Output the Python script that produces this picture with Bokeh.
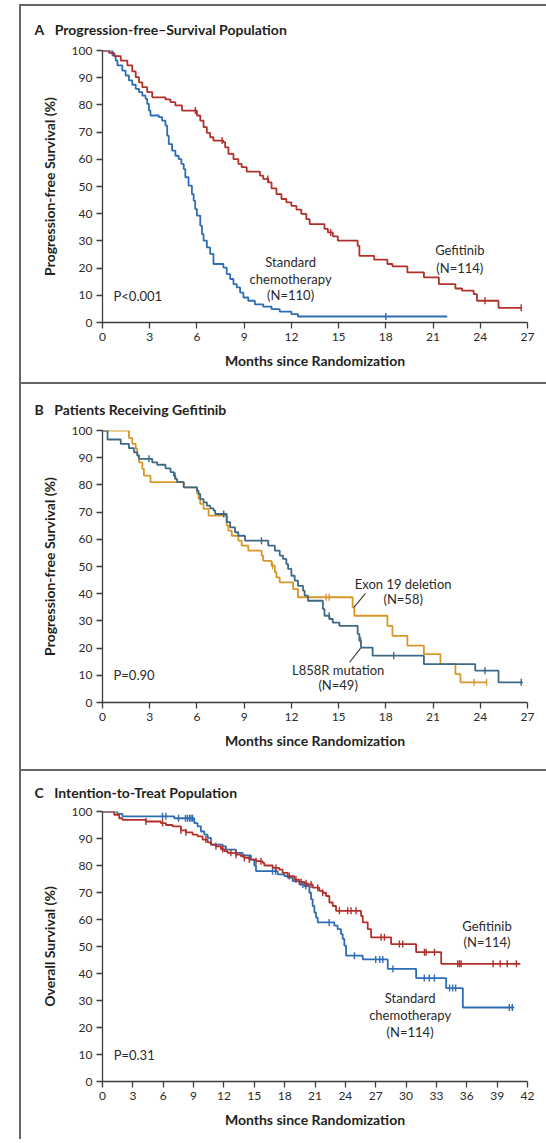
import math
from bokeh.plotting import figure
from bokeh.layouts import column, row
from bokeh.models import Div, Spacer, Label, FixedTicker, Range1d
from bokeh.embed import file_html
from bokeh.resources import INLINE

# ---------------- data ----------------
# Panel A: progression-free survival
A_gef_t = [0, 0.42, 0.74, 1.16, 1.58, 1.89, 2.11, 2.32, 2.53, 2.84, 3.16, 4.0, 4.32, 4.63, 5.05,
           6.0, 6.21, 6.42, 6.63, 6.84, 7.05, 7.68, 7.79, 8.0, 8.32, 8.63, 8.84, 9.16, 10.0, 10.21,
           10.53, 10.74, 11.05, 11.37, 11.68, 12.0, 12.32, 12.63, 12.95, 13.16, 14.1, 14.32, 14.63,
           14.95, 16.21, 16.32, 17.26, 18.1, 18.42, 19.37, 20.42, 21.37, 22.42, 22.84, 23.58, 23.79, 25.16]
A_gef_s = [100, 99.1, 97.9, 96.3, 94.5, 92.3, 90.2, 88.3, 86.5, 84.7, 82.8, 82.0, 81.0, 79.8, 77.9,
           76.1, 74.2, 71.8, 69.7, 68.1, 66.9, 66.3, 64.4, 62.0, 60.1, 58.3, 57.1, 55.5, 54.0, 52.8,
           51.5, 49.3, 47.2, 45.4, 44.2, 42.9, 41.5, 39.9, 38.0, 36.2, 34.4, 33.1, 31.7,
           30.1, 28.2, 24.5, 23.1, 21.5, 20.6, 18.4, 16.6, 14.1, 12.5, 11.7, 10.4, 8.0, 5.4]
A_gef_end = 26.6
A_gef_cens = [5.9, 7.6, 10.5, 14.5, 24.3, 26.6]

A_chemo_t = [0, 0.63, 0.84, 0.95, 1.26, 1.47, 1.68, 1.89, 2.11, 2.32, 2.53, 2.74, 2.84, 2.95, 3.05,
             3.58, 3.79, 4.0, 4.11, 4.21, 4.42, 4.63, 4.84, 5.01, 5.16, 5.26, 5.47, 5.68, 5.79, 5.89,
             6.0, 6.21, 6.32, 6.42, 6.63, 6.84, 7.05, 7.68, 7.89, 8.11, 8.32, 8.53, 8.74, 8.95, 9.26,
             9.68, 10.21, 10.74, 11.26, 12.0, 12.42]
A_chemo_s = [100, 98.2, 96.3, 94.5, 92.6, 90.8, 89.0, 87.4, 85.9, 84.7, 83.4, 82.2, 80.4, 77.9, 76.1,
             75.5, 74.2, 72.4, 68.7, 65.6, 63.2, 61.3, 60.1, 58.3, 56.4, 53.4, 50.3, 47.2, 44.8, 41.7,
             39.3, 35.6, 32.5, 30.1, 27.6, 25.2, 21.5, 20.2, 17.8, 16.0, 14.1, 12.9, 11.0, 9.2, 8.0,
             6.7, 5.8, 4.9, 4.0, 3.1, 2.2]
A_chemo_end = 21.9
A_chemo_cens = [18.0]

# Panel B: gefitinib patients by mutation type
B_l858_t = [0, 0.32, 1.16, 1.68, 2.0, 2.21, 2.32, 3.16, 3.47, 4.0, 4.32, 4.53, 4.63, 4.74, 5.16,
            6.0, 6.1, 6.21, 6.42, 6.63, 6.84, 7.05, 7.16, 7.89, 8.11, 8.42, 8.63, 9.05, 10.53, 10.95,
            11.26, 11.47, 11.68, 11.79, 12.0, 12.21, 12.42, 12.74, 12.84, 13.05, 14.0, 14.1, 14.42,
            14.63, 15.05, 16.21, 16.32, 16.42, 17.16, 20.42, 23.68, 25.16]
B_l858_s = [100, 96.7, 95.1, 93.5, 92.0, 90.8, 89.6, 88.3, 87.4, 86.1, 84.7, 83.4, 82.2, 81.0, 79.1,
            77.9, 76.7, 74.8, 73.6, 72.4, 71.4, 70.6, 69.3, 66.3, 64.4, 62.6, 61.3, 59.5, 57.7, 55.8,
            54.0, 52.8, 50.9, 49.1, 46.6, 44.8, 42.9, 41.1, 39.3, 37.4, 34.4, 31.9, 30.7,
            29.4, 28.2, 25.2, 22.7, 20.2, 17.2, 14.1, 11.7, 7.4]
B_l858_end = 26.7
B_l858_cens = [2.95, 4.6, 7.7, 10.1, 14.4, 16.4, 18.5, 24.3, 26.6]

B_exon_t = [0, 1.68, 1.89, 2.11, 2.21, 2.32, 2.53, 2.63, 3.05, 5.16, 6.0, 6.1, 6.21, 6.42, 6.74,
            7.89, 8.0, 8.21, 8.63, 8.84, 9.26, 10.11, 10.21, 10.74, 10.95, 11.05, 11.26, 12.11, 12.42,
            15.89, 16.0, 18.1, 18.42, 19.37, 20.42, 21.47, 22.42, 22.74]
B_exon_s = [100, 97.2, 95.1, 93.3, 90.8, 88.3, 85.9, 83.4, 81.0, 79.1, 77.0, 75.0, 73.0, 71.2, 68.7,
            65.0, 63.2, 61.3, 59.5, 57.7, 55.8, 54.0, 52.1, 50.3, 47.9, 46.0, 44.2, 41.7, 38.7,
            35.0, 31.9, 28.2, 24.5, 20.9, 17.8, 14.1, 10.4, 7.4]
B_exon_end = 24.4
B_exon_cens = [10.8, 14.2, 14.4, 23.6, 24.4]

# Panel C: overall survival
C_gef_t = [0, 1.15, 1.65, 1.98, 4.29, 5.77, 6.27, 6.92, 7.75, 8.24, 8.9, 9.4, 9.89, 10.39, 10.72,
           11.21, 11.71, 12.03, 12.36, 13.19, 13.68, 14.01, 14.51, 15.17, 15.83, 15.99, 16.82, 17.47,
           17.8, 18.3, 18.96, 19.45, 19.95, 20.28, 20.77, 21.43, 21.76, 22.09, 22.42, 22.75, 23.08,
           25.55, 25.72, 26.21, 26.54, 28.52, 30.99, 33.47]
C_gef_s = [100, 98.8, 97.5, 96.9, 96.3, 95.7, 95.0, 94.5, 93.0, 92.3, 91.4, 90.8, 89.6, 88.6, 87.7,
           87.1, 86.1, 85.3, 84.7, 84.0, 83.4, 82.8, 82.2, 81.6, 81.0, 80.0, 79.1, 78.5,
           77.3, 76.1, 74.8, 73.9, 73.4, 73.0, 71.8, 70.6, 69.9, 68.7, 66.3, 65.0, 63.2,
           61.3, 58.9, 56.4, 53.4, 50.9, 47.9, 43.6]
C_gef_end = 41.3
C_gef_cens = [4.29, 5.93, 7.75, 8.24, 10.22, 11.21, 11.87, 12.69, 13.19, 14.01, 14.51, 15.17, 15.66,
              17.14, 18.46, 19.12, 19.62, 20.11, 20.61, 21.27, 21.76, 23.41, 24.23, 24.56, 25.06,
              27.53, 27.86, 29.34, 29.67, 31.82, 31.98, 32.81, 35.11, 35.28, 35.44, 38.6, 39.3,
              40.0, 40.9]

C_chemo_t = [0, 1.48, 1.98, 7.09, 9.07, 9.4, 9.73, 10.06, 10.39, 10.72, 11.87, 12.2, 13.19, 13.85,
             14.67, 15.0, 15.17, 17.31, 17.97, 18.3, 18.79, 19.45, 19.95, 20.44, 20.61, 20.77, 20.94,
             21.1, 21.27, 22.91, 23.24, 23.57, 23.74, 23.9, 24.07, 25.72, 28.19, 30.99, 33.96, 35.61]
C_chemo_s = [100, 99.1, 98.2, 97.5, 95.7, 94.5, 92.6, 91.4, 90.2, 87.7, 87.1, 85.9, 84.7, 83.7,
             82.2, 80.0, 77.9, 76.7, 76.1, 75.5, 74.2, 73.0, 72.4, 69.9, 67.5, 65.0, 62.6,
             60.7, 58.9, 57.7, 56.4, 54.6, 52.8, 50.3, 46.6, 45.2, 41.7, 38.3, 34.6, 27.4]
C_chemo_end = 40.7
C_chemo_cens = [5.93, 6.26, 7.52, 8.2, 8.4, 8.6, 8.75, 8.9, 16.8, 17.1, 19.8, 20.1, 22.4, 24.9,
                27.0, 27.4, 27.7, 28.7, 31.8, 32.3, 32.8, 34.3, 34.6, 34.9, 40.2, 40.5]

X_TICKS_AB = list(range(0, 28, 3))
X_TICKS_C = list(range(0, 43, 3))
Y_TICKS = list(range(0, 101, 10))

# ---------------- style ----------------
RED = "#b3302a"
BLUE = "#2d6db5"
ORANGE = "#d9962a"
STEEL = "#3d6986"
AXIS = "#3c3c3c"
TEXT = "#231f20"
FRAME = "#666666"
FONT = "Lato"

FIG_W = 525


def step_value(t, s, c):
    v = s[0]
    for ti, si in zip(t, s):
        if ti <= c:
            v = si
        else:
            break
    return v


def make_fig(h, top, bottom, xmax, xticks, ylabel, title, title_standoff):
    p = figure(width=FIG_W, height=h, output_backend="svg", toolbar_location=None,
               x_range=Range1d(0, xmax), y_range=Range1d(0, 100),
               min_border_left=81, min_border_right=FIG_W - 81 - 425, min_border_top=top,
               min_border_bottom=bottom, background_fill_color="white",
               border_fill_color="white", outline_line_color=None, title=title)
    p.title.align = "left"
    p.title.offset = -68
    p.title.standoff = title_standoff
    p.title.text_font = FONT
    p.title.text_font_style = "bold"
    p.title.text_font_size = "14px"
    p.title.text_color = TEXT
    p.grid.visible = False
    for ax in (p.xaxis[0], p.yaxis[0]):
        ax.axis_line_color = AXIS
        ax.axis_line_width = 1.3
        ax.major_tick_line_color = AXIS
        ax.major_tick_line_width = 1.3
        ax.major_tick_out = 6
        ax.major_tick_in = 0
        ax.minor_tick_line_color = None
        ax.major_label_text_font = FONT
        ax.major_label_text_font_size = "12px"
        ax.major_label_text_color = "#2a2a2a"
        ax.axis_label_text_font = FONT
        ax.axis_label_text_font_style = "bold"
        ax.axis_label_text_font_size = "14px"
        ax.axis_label_text_color = TEXT
    p.xaxis.ticker = FixedTicker(ticks=xticks)
    p.yaxis.ticker = FixedTicker(ticks=Y_TICKS)
    p.xaxis.axis_label = "Months since Randomization"
    p.yaxis.axis_label = ylabel
    p.xaxis.major_label_standoff = 4
    p.xaxis.axis_label_standoff = 8
    p.yaxis.major_label_standoff = 4
    p.yaxis.axis_label_standoff = 11
    return p


def add_curve(p, t, s, end, cens, color):
    xs = list(t) + [end]
    ys = list(s) + [s[-1]]
    p.step(xs, ys, mode="after", line_color=color, line_width=1.8)
    cy = [step_value(t, s, c) for c in cens]
    p.scatter(cens, cy, marker="dash", angle=math.pi / 2, size=7,
              line_color=color, line_width=1.4)


def add_text(p, x, y, txt, align="center"):
    p.add_layout(Label(x=x, y=y, text=txt, text_font=FONT, text_font_size="13px",
                       text_color="#2a2a2a", text_baseline="middle", text_align=align))


# ---------------- panel A ----------------
pA = make_fig(376, 44, 60, 27, X_TICKS_AB, "Progression-free Survival (%)",
              "A\u2003Progression-free\u2013Survival Population", 25)
add_curve(pA, A_chemo_t, A_chemo_s, A_chemo_end, A_chemo_cens, BLUE)
add_curve(pA, A_gef_t, A_gef_s, A_gef_end, A_gef_cens, RED)
add_text(pA, 0.7, 9.9, "P<0.001", "left")
add_text(pA, 11.95, 22.1, "Standard")
add_text(pA, 11.95, 16.0, "chemotherapy")
add_text(pA, 11.95, 10.2, "(N=110)")
add_text(pA, 22.7, 26.5, "Gefitinib")
add_text(pA, 22.7, 20.0, "(N=114)")

# ---------------- panel B ----------------
pB = make_fig(385, 46, 67, 27, X_TICKS_AB, "Progression-free Survival (%)",
              "B\u2003Patients Receiving Gefitinib", 25)
add_curve(pB, B_exon_t, B_exon_s, B_exon_end, B_exon_cens, ORANGE)
add_curve(pB, B_l858_t, B_l858_s, B_l858_end, B_l858_cens, STEEL)
add_text(pB, 0.7, 10.2, "P=0.90", "left")
add_text(pB, 19.1, 43.6, "Exon 19 deletion")
add_text(pB, 19.1, 37.9, "(N=58)")
add_text(pB, 14.97, 12.0, "L858R mutation")
add_text(pB, 14.97, 6.5, "(N=49)")
pB.segment(x0=[16.7, 15.7], y0=[40.0, 14.8], x1=[15.97, 16.4], y1=[35.0, 20.0],
           line_color="#333333", line_width=1.1)

# ---------------- panel C ----------------
pC = make_fig(368, 38, 58, 42, X_TICKS_C, "Overall Survival (%)",
              "C\u2003Intention-to-Treat Population", 21)
add_curve(pC, C_chemo_t, C_chemo_s, C_chemo_end, C_chemo_cens, BLUE)
add_curve(pC, C_gef_t, C_gef_s, C_gef_end, C_gef_cens, RED)
add_text(pC, 1.1, 9.9, "P=0.31", "left")
add_text(pC, 38.0, 57.7, "Gefitinib")
add_text(pC, 38.0, 51.6, "(N=114)")
add_text(pC, 30.4, 30.8, "Standard")
add_text(pC, 30.4, 24.6, "chemotherapy")
add_text(pC, 30.4, 18.5, "(N=114)")


def hline():
    return Div(text="", width=FIG_W, height=2, margin=0,
               styles={"background-color": FRAME})


col = column(Spacer(width=FIG_W, height=4, margin=0), hline(), pA, hline(), pB, hline(), pC,
             spacing=0)
vcol = column(Spacer(width=2, height=4, margin=0),
              Div(text="", width=2, height=1135, margin=0, styles={"background-color": FRAME}),
              spacing=0)
layout = row(Spacer(width=19, height=10, margin=0), vcol, col, spacing=0)

open("out.html", "w").write(file_html(layout, INLINE))
